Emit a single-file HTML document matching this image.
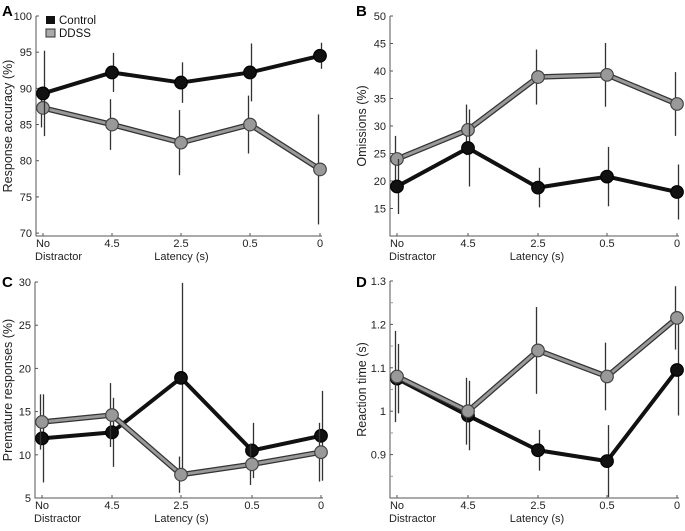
<!DOCTYPE html>
<html><head><meta charset="utf-8"><style>
html,body{margin:0;padding:0;background:#fff;}
svg{display:block;font-family:"Liberation Sans",Arial,sans-serif;}
</style></head><body>
<svg id="fig" width="685" height="531" viewBox="0 0 685 531" xmlns="http://www.w3.org/2000/svg"></svg>
<script>
const categories = ["No", "4.5", "2.5", "0.5", "0"];
// Panel A: response accuracy
const accControl = [89.3, 92.2, 90.8, 92.2, 94.5];
const accControlErr = [5.9, 2.7, 2.8, 4.0, 1.8];
const accDDSS = [87.3, 85.0, 82.5, 85.0, 78.8];
const accDDSSErr = [2.7, 3.5, 4.5, 4.0, 7.6];
const accTicks = [70, 75, 80, 85, 90, 95, 100];
// Panel B: omissions
const omControl = [19, 26, 18.8, 20.8, 18];
const omControlErr = [5, 7, 3.6, 5.4, 5];
const omDDSS = [24, 29.3, 38.9, 39.3, 34];
const omDDSSErr = [4.2, 4.6, 5, 5.8, 5.8];
const omTicks = [15, 20, 25, 30, 35, 40, 45, 50];
// Panel C: premature responses
const prControl = [11.9, 12.6, 18.9, 10.5, 12.2];
const prControlErr = [5.1, 4.0, 11.0, 3.2, 5.2];
const prDDSS = [13.8, 14.6, 7.7, 8.9, 10.3];
const prDDSSErr = [3.2, 3.7, 2.1, 2.4, 3.4];
const prTicks = [5, 10, 15, 20, 25, 30];
// Panel D: reaction time
const rtControl = [1.075, 0.99, 0.91, 0.885, 1.095];
const rtControlErr = [0.08, 0.08, 0.047, 0.083, 0.105];
const rtDDSS = [1.08, 1.0, 1.14, 1.08, 1.215];
const rtDDSSErr = [0.105, 0.077, 0.1, 0.078, 0.073];
const rtTicks = [0.9, 1, 1.1, 1.2, 1.3];

const NS = "http://www.w3.org/2000/svg";
const svg = document.getElementById("fig");
function mk(tag, attrs, parent, text) {
  const e = document.createElementNS(NS, tag);
  for (const k in attrs) e.setAttribute(k, attrs[k]);
  if (text !== undefined) e.textContent = text;
  (parent || svg).appendChild(e);
  return e;
}

function panel(p) {
  const g = mk("g", {});
  
  
  const y = v => p.yTop + (p.vMax - v) / (p.vMax - p.vMin) * (p.yBot - p.yTop);
  const x = i => p.xs[i];
  const ax = mk("path", {d: `M${p.ax},${p.yTop} V${p.yBot} H${p.axEnd}`, stroke: "#555", "stroke-width": 1, fill: "none"}, g);
  
  
  p.ticks.forEach(t => {
    mk("line", {x1: p.ax, x2: p.ax + 3, y1: y(t), y2: y(t), stroke: "#555"}, g);
    const tl = mk("text", {x: p.ax - 4, y: y(t) + 4, "text-anchor": "end", "font-size": 11, fill: "#222"}, g, String(t));
    
    
  });
  (p.minor || []).forEach(t => mk("line", {x1: p.ax, x2: p.ax + 3, y1: y(t), y2: y(t), stroke: "#999"}, g));
  categories.forEach((c, i) => {
    mk("line", {x1: x(i), x2: x(i), y1: p.yBot, y2: p.yBot - 3, stroke: "#555"}, g);
    const xl = mk("text", {x: x(i), y: p.yBot + 11, "text-anchor": "middle", "font-size": 11, fill: "#222"}, g, c);
    
    
  });
  const d2 = mk("text", {x: x(0) - 8, y: p.yBot + 24, "font-size": 11, fill: "#222"}, g, "Distractor");
  
  
  const xt = mk("text", {x: (x(0) + x(4)) / 2, y: p.yBot + 24, "text-anchor": "middle", "font-size": 11, fill: "#222"}, g, "Latency (s)");
  
  
  const yt = mk("text", {x: 0, y: 0, "text-anchor": "middle", "font-size": 12.5, fill: "#222", transform: `translate(${p.ytx},${(p.yTop + p.yBot) / 2}) rotate(-90)`}, g, p.ytitle);
  
  
  const lt = mk("text", {x: p.lx, y: p.ly, "font-size": 15, "font-weight": "bold", fill: "#000"}, g, p.letter);
  
  

  function series(vals, errs, kind) {
    const sg = mk("g", {}, g);
    
    
    const pts = vals.map((v, i) => `${x(i)},${y(v)}`).join(" ");
    if (kind === "ddss") {
      mk("polyline", {points: pts, fill: "none", stroke: "#333", "stroke-width": 5.5, "stroke-linejoin": "round"}, sg);
      mk("polyline", {points: pts, fill: "none", stroke: "#999", "stroke-width": 3, "stroke-linejoin": "round"}, sg);
    } else {
      mk("polyline", {points: pts, fill: "none", stroke: "#111", "stroke-width": 4, "stroke-linejoin": "round"}, sg);
    }
    vals.forEach((v, i) => {
      const off = kind === "ddss" ? -1.5 : 1.5;
      const eb = mk("line", {x1: x(i) + off, x2: x(i) + off, y1: y(v - errs[i]), y2: y(v + errs[i]), stroke: "#333", "stroke-width": 1.3}, sg);
      
      
    });
    vals.forEach((v, i) => {
      const c = mk("circle", {cx: x(i), cy: y(v), r: 6.3, fill: kind === "ddss" ? "#999" : "#111", stroke: kind === "ddss" ? "#444" : "#000", "stroke-width": 1.2}, sg);
      
      
    });
  }
  p.order.forEach(s => series(s[0], s[1], s[2]));
}

const xsL = [43, 112, 181, 250, 320];
const xsR = [397, 468, 538, 607, 677];

panel({name: "panel-a-response-accuracy", letter: "A", lx: 2, ly: 16, xs: xsL, ax: 36, axEnd: 322, yTop: 16, yBot: 236, vMin: 69.6, vMax: 100,
  ticks: accTicks, ytitle: "Response accuracy (%)", ytx: 12,
  order: [[accDDSS, accDDSSErr, "ddss"], [accControl, accControlErr, "control"]]});
panel({name: "panel-b-omissions", letter: "B", lx: 356, ly: 16, xs: xsR, ax: 390, axEnd: 679, yTop: 16, yBot: 236, vMin: 10, vMax: 50,
  ticks: omTicks, ytitle: "Omissions (%)", ytx: 366,
  order: [[omDDSS, omDDSSErr, "ddss"], [omControl, omControlErr, "control"]]});
panel({name: "panel-c-premature-responses", letter: "C", lx: 2, ly: 287, xs: [42, 112, 181, 252, 321], ax: 35, axEnd: 323, yTop: 282, yBot: 498, vMin: 5, vMax: 30,
  ticks: prTicks, ytitle: "Premature responses (%)", ytx: 12,
  order: [[prControl, prControlErr, "control"], [prDDSS, prDDSSErr, "ddss"]]});
panel({name: "panel-d-reaction-time", letter: "D", lx: 356, ly: 287, xs: xsR, ax: 390, axEnd: 679, yTop: 281, yBot: 498, vMin: 0.8, vMax: 1.3,
  ticks: rtTicks, minor: [0.85, 0.95, 1.05, 1.15, 1.25], ytitle: "Reaction time (s)", ytx: 366,
  order: [[rtControl, rtControlErr, "control"], [rtDDSS, rtDDSSErr, "ddss"]]});

const lg = mk("g", {});


const l1 = mk("rect", {x: 46, y: 16, width: 9, height: 8, fill: "#111"}, lg);


const t1 = mk("text", {x: 59, y: 24, "font-size": 11.5, fill: "#111"}, lg, "Control");


const l2 = mk("rect", {x: 46, y: 29, width: 9, height: 8, fill: "#aaa", stroke: "#333", "stroke-width": 1}, lg);


const t2 = mk("text", {x: 59, y: 37, "font-size": 11.5, fill: "#111"}, lg, "DDSS");


</script>
</body></html>
